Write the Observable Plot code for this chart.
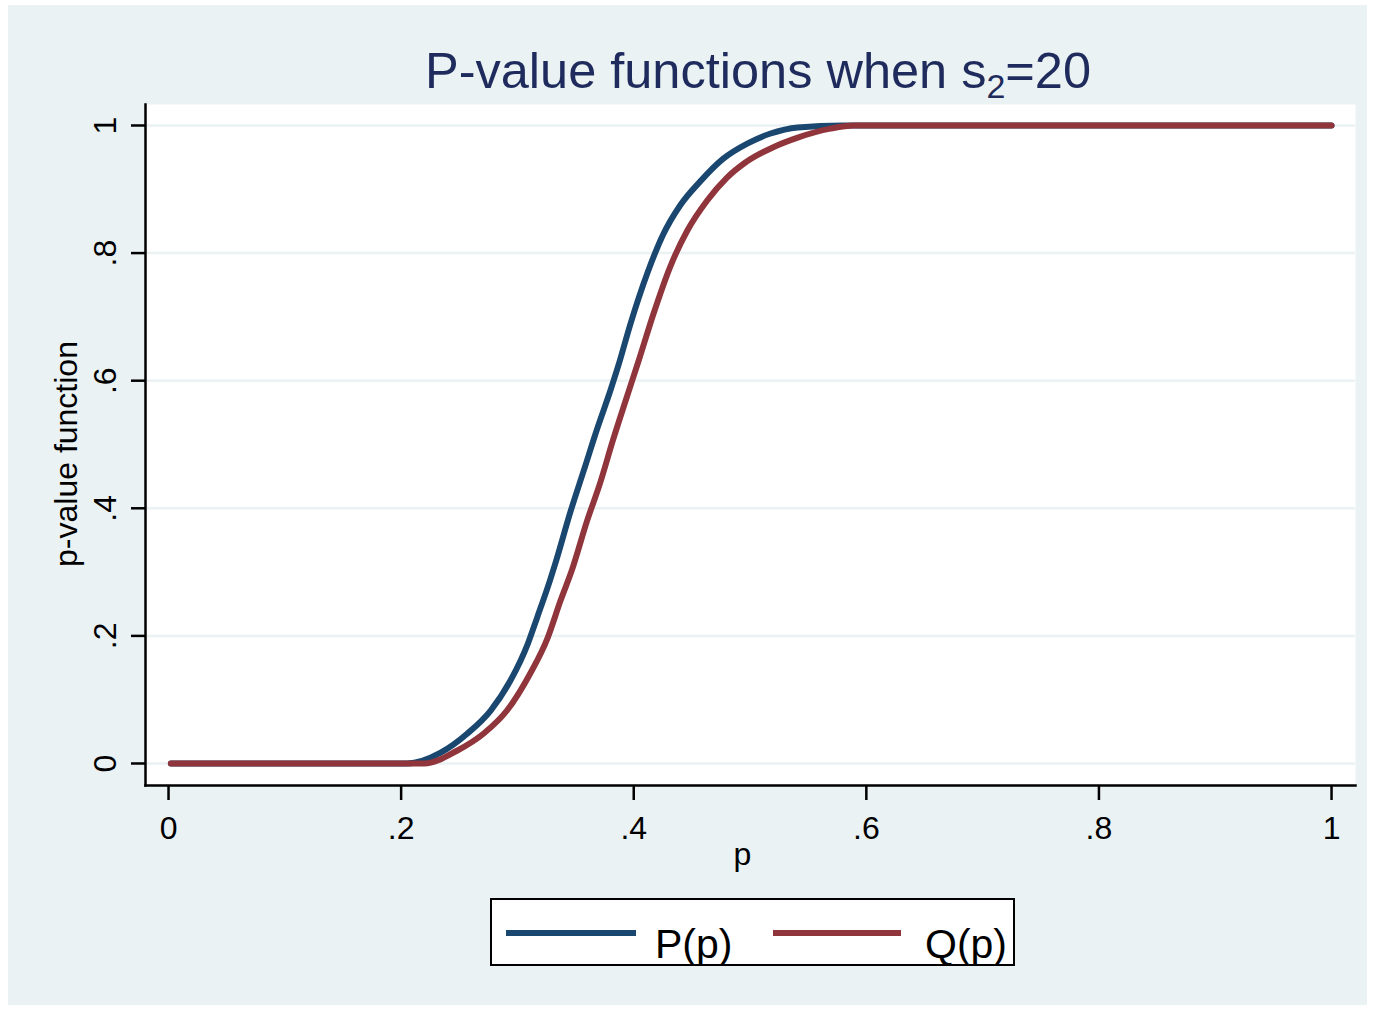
<!DOCTYPE html>
<html>
<head>
<meta charset="utf-8">
<script src="https://cdn.jsdelivr.net/npm/d3@7"></script>
<script src="https://cdn.jsdelivr.net/npm/@observablehq/plot@0.6"></script>
<style>
  html, body { margin: 0; padding: 0; background: #ffffff; }
  #page { position: relative; width: 1375px; height: 1010px; overflow: hidden; font-family: "Liberation Sans", Arial, sans-serif; }
  #bg { position: absolute; left: 8px; top: 5px; width: 1359px; height: 1000px; background: #EAF2F3; }
  #title { position: absolute; left: 0; top: 0; width: 1375px; height: 100px; }
  #title span { position: absolute; left: 425px; top: 46px; font-size: 50.5px; color: #1e2b5c; line-height: 1; white-space: nowrap; }
  #title sub { font-size: 34px; vertical-align: -10px; line-height: 0; }
  #chart { position: absolute; left: 0; top: 100px; }
  #legend { position: absolute; left: 490px; top: 898px; width: 521px; height: 64px; border: 2.5px solid #000; background: #fff; }
  .sw { position: absolute; height: 6px; top: 30px; }
  .lt { position: absolute; font-size: 41px; line-height: 1; top: 24px; color: #000; white-space: nowrap; }
</style>
</head>
<body>
<div id="page">
  <div id="bg"></div>
  <div id="title"><span>P-value functions when s<sub>2</sub>=20</span></div>
  <div id="chart"></div>
  <div id="legend">
    <div class="sw" style="left:14px;width:130px;background:#1a476f"></div>
    <div class="lt" style="left:163px">P(p)</div>
    <div class="sw" style="left:281px;width:128px;background:#90353b"></div>
    <div class="lt" style="left:433px">Q(p)</div>
  </div>
</div>
<script>
// Blue curve P(p)
const pX = [0.002, 0.205, 0.234, 0.257, 0.277, 0.294, 0.309, 0.317, 0.328, 0.333, 0.346, 0.357, 0.369, 0.380, 0.387, 0.397, 0.412, 0.425, 0.440, 0.457, 0.477, 0.498, 0.517, 0.541, 0.580, 1.000];
const pY = [0, 0, 0.017, 0.047, 0.083, 0.130, 0.188, 0.229, 0.287, 0.316, 0.397, 0.459, 0.527, 0.585, 0.625, 0.688, 0.770, 0.828, 0.875, 0.912, 0.948, 0.972, 0.987, 0.997, 1, 1];
// Red curve Q(p)
const qX = [0.002, 0.220, 0.248, 0.271, 0.291, 0.311, 0.326, 0.337, 0.347, 0.360, 0.371, 0.382, 0.394, 0.404, 0.417, 0.431, 0.446, 0.463, 0.480, 0.496, 0.520, 0.541, 0.569, 0.589, 1.000];
const qY = [0, 0, 0.020, 0.047, 0.083, 0.141, 0.197, 0.255, 0.304, 0.381, 0.439, 0.506, 0.574, 0.630, 0.705, 0.777, 0.835, 0.882, 0.918, 0.942, 0.966, 0.981, 0.995, 1, 1];

const xTicks = [0, 0.2, 0.4, 0.6, 0.8, 1];
const yTicks = [0, 0.2, 0.4, 0.6, 0.8, 1];
const xLabel = "p";
const yLabel = "p-value function";
const xDomain = [-0.0198, 1.0206];
const yDomain = [-0.0345, 1.0329];

const fmt = d => (d === 0 ? "0" : d === 1 ? "1" : String(+d.toFixed(1)).replace(/^0\./, "."));

const pData = pX.map((x, i) => ({p: x, v: pY[i]}));
const qData = qX.map((x, i) => ({p: x, v: qY[i]}));

const chart = Plot.plot({
  width: 1375,
  height: 790,
  marginLeft: 145,
  marginRight: 20,
  marginTop: 4,
  marginBottom: 105,
  x: {domain: xDomain},
  y: {domain: yDomain, axis: null},
  style: {fontFamily: "'Liberation Sans', Arial, sans-serif", background: "transparent", color: "#000", overflow: "visible"},
  marks: [
    Plot.frame({fill: "white"}),
    Plot.gridY(yTicks, {stroke: "#EAF2F3", strokeOpacity: 1, strokeWidth: 2.5}),
    Plot.line(pData, {x: "p", y: "v", stroke: "#1a476f", strokeWidth: 6, curve: "monotone-x"}),
    Plot.line(qData, {x: "p", y: "v", stroke: "#90353b", strokeWidth: 6, curve: "monotone-x"}),
    Plot.frame({anchor: "left", stroke: "#000", strokeWidth: 2.5}),
    Plot.frame({anchor: "bottom", stroke: "#000", strokeWidth: 2.5}),
    Plot.axisX(xTicks, {tickSize: 15, tickPadding: 16, fontSize: 32, tickFormat: fmt, strokeWidth: 2.5, label: null}),
    Plot.ruleY(yTicks, {y: d => d, x1: xDomain[0], x2: xDomain[0], insetLeft: -14, stroke: "#000", strokeWidth: 2.5}),
    Plot.text(yTicks, {y: d => d, text: fmt, frameAnchor: "left", dx: -30, rotate: -90, textAnchor: "middle", lineAnchor: "bottom", fontSize: 32, fill: "#000"}),
    Plot.text([xLabel], {frameAnchor: "bottom", dx: -8, dy: 79, lineAnchor: "bottom", fontSize: 32, fill: "#000"}),
    Plot.text([yLabel], {frameAnchor: "left", dx: -69, dy: 9, rotate: -90, textAnchor: "middle", lineAnchor: "bottom", fontSize: 32, fill: "#000"})
  ]
});
document.getElementById("chart").appendChild(chart);
</script>
</body>
</html>
